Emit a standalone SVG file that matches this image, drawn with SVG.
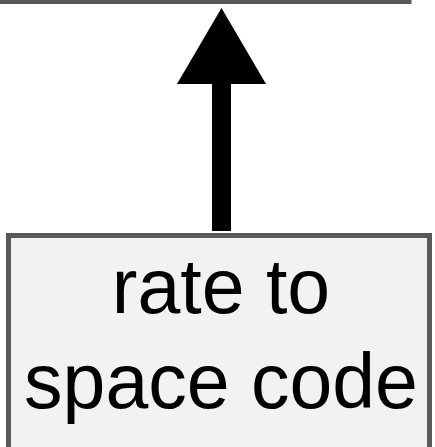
<svg xmlns="http://www.w3.org/2000/svg" width="435" height="447" viewBox="0 0 435 447">
  <style>
    .box { fill: #f2f2f2; stroke: #595959; stroke-width: 5; }
    .label { font-family: "Liberation Sans", Arial, sans-serif; font-size: 77px; fill: #000; text-anchor: middle; }
  </style>
  <rect width="435" height="447" fill="#ffffff"/>
  <g id="node-above">
    <rect class="box" x="-100" y="-100" width="509" height="101.5" fill="#ffffff" style="fill:#ffffff"/>
  </g>
  <g id="connectors">
    <rect x="212" y="82" width="19" height="149" fill="#000000"/>
    <polygon points="221.5,8 177,84 266,84" fill="#000000"/>
  </g>
  <g id="node-rate-to-space-code">
    <rect class="box" x="8.5" y="235.5" width="421" height="230"/>
    <text class="label" x="221" y="313">rate to</text>
    <text class="label" x="221" y="408">space code</text>
  </g>
</svg>
